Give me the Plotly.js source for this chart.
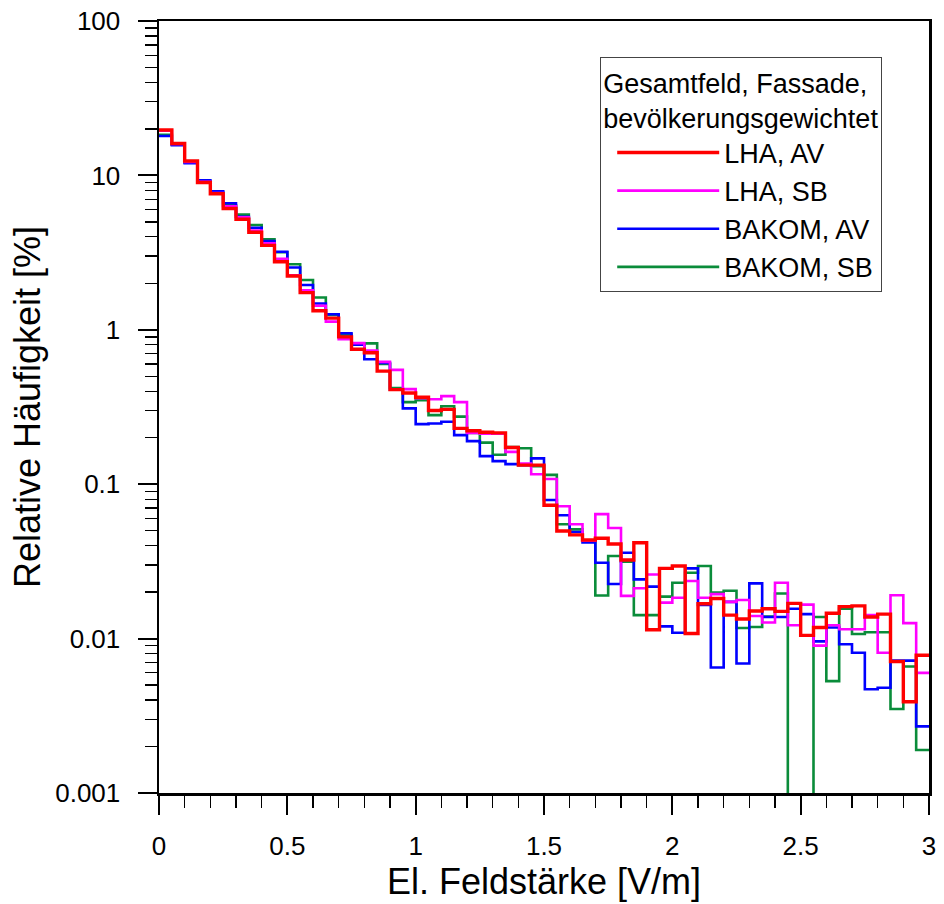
<!DOCTYPE html>
<html>
<head>
<meta charset="utf-8">
<script src="https://cdn.plot.ly/plotly-3.0.1.min.js"></script>
<style>
html,body{margin:0;padding:0;background:#fff;}
#chart{width:944px;height:904px;}
</style>
</head>
<body>
<div id="chart"></div>
<script>
// Bin left edges of the electric field strength [V/m] (bin width 0.05 V/m)
const fieldBins = [0,0.05,0.1,0.15,0.2,0.25,0.3,0.35,0.4,0.45,0.5,0.55,0.6,0.65,0.7,0.75,0.8,0.85,0.9,0.95,
  1,1.05,1.1,1.15,1.2,1.25,1.3,1.35,1.4,1.45,1.5,1.55,1.6,1.65,1.7,1.75,1.8,1.85,1.9,1.95,
  2,2.05,2.1,2.15,2.2,2.25,2.3,2.35,2.4,2.45,2.5,2.55,2.6,2.65,2.7,2.75,2.8,2.85,2.9,2.95];
const fieldEnd = 3;

// Relative frequency [%] per bin
const lhaAV = [19.7,16.1,12.4,9.0,7.6,6.1,5.2,4.28,3.52,2.76,2.23,1.74,1.33,1.19,0.90,0.748,0.71,0.54,0.41,0.39,
  0.366,0.30,0.305,0.23,0.222,0.217,0.215,0.173,0.133,0.133,0.073,0.0498,0.047,0.0435,0.0447,0.041,0.0323,0.0418,0.0114,0.0285,
  0.0295,0.0108,0.0168,0.0182,0.0142,0.0134,0.0151,0.0156,0.015,0.0169,0.0105,0.0118,0.0146,0.0161,0.0163,0.0138,0.0144,0.0071,0.0039,0.0078];
const lhaSB = [19.5,16.0,12.2,9.1,7.7,6.3,5.35,4.4,3.63,2.88,2.25,1.80,1.43,1.13,0.87,0.82,0.735,0.62,0.55,0.413,
  0.36,0.355,0.372,0.34,0.215,0.212,0.212,0.162,0.136,0.116,0.108,0.072,0.055,0.043,0.064,0.052,0.0189,0.0212,0.026,0.0171,
  0.0184,0.0236,0.0184,0.0194,0.0173,0.0178,0.014,0.0127,0.023,0.0122,0.0166,0.009,0.0122,0.0115,0.0115,0.0142,0.0081,0.0191,0.0126,0.006];
const bakomAV = [18.0,15.7,12.0,9.3,7.9,6.6,5.4,4.58,3.75,3.2,2.53,1.95,1.48,1.26,0.95,0.80,0.644,0.61,0.41,0.31,
  0.245,0.247,0.254,0.208,0.19,0.152,0.141,0.135,0.133,0.147,0.079,0.063,0.049,0.042,0.031,0.0226,0.036,0.0242,0.0217,0.012,
  0.0109,0.0285,0.0165,0.0065,0.0173,0.0069,0.0228,0.0138,0.0138,0.0156,0.0144,0.0096,0.0118,0.0092,0.0081,0.0047,0.0048,0.0072,0.0072,0.0027];
// 0 = no occurrence in that bin (drawn down out of the log range)
const bakomSB = [18.3,15.8,12.1,9.2,7.8,6.4,5.57,4.77,3.86,3.18,2.66,2.1,1.62,1.25,0.93,0.80,0.817,0.60,0.42,0.34,
  0.35,0.28,0.32,0.274,0.215,0.186,0.155,0.174,0.171,0.131,0.115,0.055,0.051,0.043,0.019,0.0343,0.0315,0.0142,0.0142,0.0187,
  0.023,0.0267,0.0295,0.0199,0.0204,0.0117,0.0119,0.0139,0.0196,0,0,0.0138,0.0053,0.0156,0.0107,0.011,0.011,0.0035,0.0066,0.0019];

const seriesNames = ['LHA, AV','LHA, SB','BAKOM, AV','BAKOM, SB'];
const seriesColors = ['#FF0000','#FF00FF','#0000FF','#0A8C3A'];
const seriesWidths = [3.4,2.6,2.6,2.6];
const seriesData = [lhaAV, lhaSB, bakomAV, bakomSB];

const FONT = '"Liberation Sans", Arial, Helvetica, sans-serif';

function stepTrace(i){
  const vals = seriesData[i].map(v => v > 0 ? v : 1e-6);
  return {
    x: fieldBins.concat([fieldEnd]),
    y: vals.concat([vals[vals.length-1]]),
    type: 'scatter', mode: 'lines',
    line: {shape: 'hv', color: seriesColors[i], width: seriesWidths[i]},
    name: seriesNames[i]
  };
}
// draw order: green, blue, magenta, red on top
const traces = [3,2,1,0].map(stepTrace);

const minorY = [];
for (let e = -3; e < 2; e++) for (let d = 2; d <= 9; d++) minorY.push(d * Math.pow(10, e));

const layout = {
  width: 944, height: 904,
  margin: {l:159, r:15, t:21, b:111},
  paper_bgcolor: '#fff', plot_bgcolor: '#fff',
  font: {family: FONT, color: '#000', size: 26},
  showlegend: true,
  legend: {
    x: 0.573, y: 0.953, xanchor: 'left', yanchor: 'top',
    bgcolor: '#fff', bordercolor: '#444', borderwidth: 1,
    traceorder: 'reversed',
    font: {family: FONT, size: 27, color: '#000'},
    title: {text: 'Gesamtfeld, Fassade,<br>bevölkerungsgewichtet', font: {family: FONT, size: 27, color: '#000'}},
    itemwidth: 102,
    indentation: 11,
    entrywidth: 180,
    entrywidthmode: 'pixels'
  },
  xaxis: {
    range: [0, 3], tickmode: 'linear', tick0: 0, dtick: 0.5,
    ticks: 'outside', ticklen: 19, tickwidth: 2, tickcolor: '#000',
    ticklabelstandoff: 9,
    minor: {ticks: 'outside', ticklen: 12, tickwidth: 1.3, tickcolor: '#000', dtick: 0.1, tick0: 0, showgrid: false},
    showline: true, linewidth: 2.5, linecolor: '#000', mirror: true,
    showgrid: false, zeroline: false,
    tickfont: {family: FONT, size: 26, color: '#000'},
    title: {text: 'El. Feldstärke [V/m]', font: {family: FONT, size: 36, color: '#000'}, standoff: 6}
  },
  yaxis: {
    type: 'log', range: [-3, 2],
    tickmode: 'array',
    tickvals: [0.001, 0.01, 0.1, 1, 10, 100],
    ticktext: ['0.001', '0.01', '0.1', '1', '10', '100'],
    ticks: 'outside', ticklen: 19, tickwidth: 2, tickcolor: '#000',
    ticklabelstandoff: 12,
    minor: {ticks: 'outside', ticklen: 12, tickwidth: 1.3, tickcolor: '#000', tickmode: 'array', tickvals: minorY, showgrid: false},
    showline: true, linewidth: 2.5, linecolor: '#000', mirror: true,
    showgrid: false, zeroline: false,
    tickfont: {family: FONT, size: 26, color: '#000'},
    title: {text: 'Relative Häufigkeit [%]', font: {family: FONT, size: 36, color: '#000'}, standoff: 4}
  }
};

Plotly.newPlot('chart', traces, layout, {displayModeBar: false, staticPlot: true});
</script>
</body>
</html>
